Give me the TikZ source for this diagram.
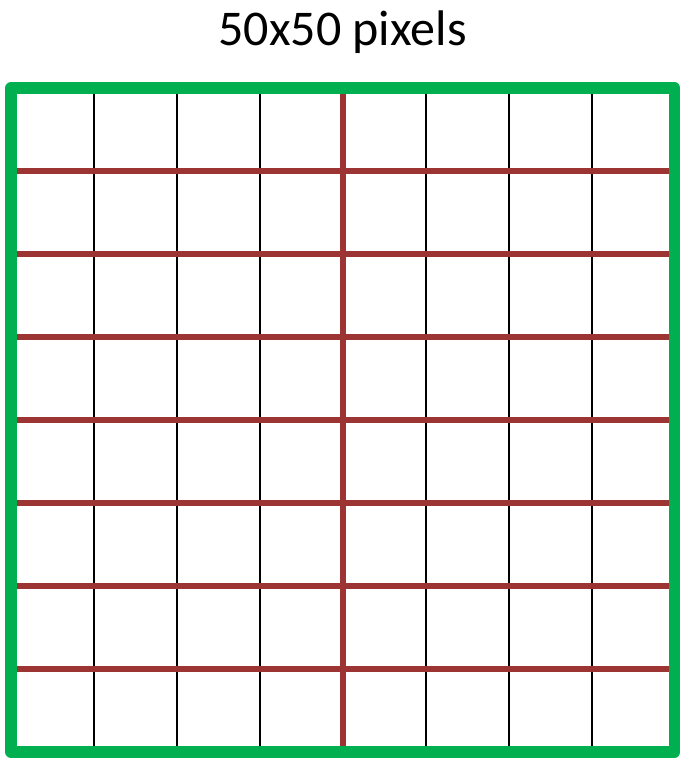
\documentclass[tikz,border=0pt]{standalone}
\usepackage{fontspec}
\setmainfont{Carlito}
\definecolor{boxgreen}{RGB}{0,176,80}
\definecolor{gridred}{RGB}{155,52,50}
\begin{document}
\begin{tikzpicture}[x=1pt,y=-1pt,
  thin grid/.style={black, line width=1.8pt},
  red grid/.style={gridred, line width=6pt},
  frame/.style={boxgreen, line width=11.5pt, line join=round}]
\useasboundingbox (0,0) rectangle (684,760);
\node[anchor=base, font=\fontsize{50}{60}\selectfont, inner sep=0pt] (title) at (342.5,46) {50x50 pixels};
\coordinate (tl) at (11,88);
\coordinate (br) at (674.5,752);
% thin black vertical lines
\foreach \i in {1,2,3,5,6,7} {
  \draw[thin grid] (11+83*\i,88) -- (11+83*\i,752);
}
% red horizontal lines
\foreach \j in {1,...,7} {
  \draw[red grid] (11,88+83*\j) -- (674.5,88+83*\j);
}
% red vertical middle line
\draw[red grid] (343,88) -- (343,752);
\draw[frame] (tl) rectangle (br);
\end{tikzpicture}
\end{document}
